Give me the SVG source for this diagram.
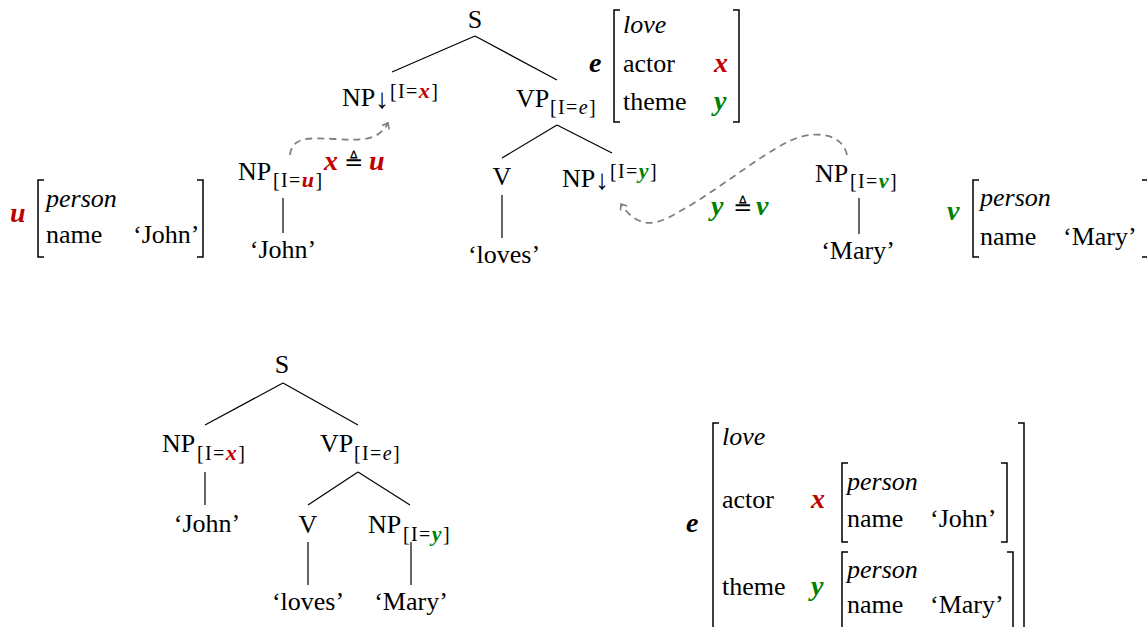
<svg xmlns="http://www.w3.org/2000/svg" width="1147" height="627" viewBox="0 0 1147 627">
<style>
text{font-family:"Liberation Serif","Times New Roman",serif;font-size:26px;fill:#000}
.it{font-style:italic}
.s{font-size:20px;letter-spacing:1.4px}
.m{font-style:italic;font-weight:bold;font-size:28px}
.s .m{font-size:22px}
.r{fill:#bf0000}
.g{fill:#008000}
.e{font-style:italic}
.c{text-anchor:middle}
.ar{font-size:28px}
.def{font-family:"DejaVu Sans",sans-serif;font-size:23px}
.edge{stroke:#000;stroke-width:1.2;fill:none}
.br{stroke:#000;stroke-width:1.5;fill:none}
.dash{stroke:#808080;stroke-width:1.8;fill:none;stroke-dasharray:7 5;marker-end:url(#ah)}
</style>
<defs>
<marker id="ah" viewBox="-6 -5 8 10" markerWidth="8" markerHeight="10" refX="0" refY="0" orient="auto" markerUnits="userSpaceOnUse">
<path d="M-5,-4 L0,0 L-5,4" stroke="#808080" stroke-width="1.6" fill="none"/>
</marker>
</defs>
<rect width="1147" height="627" fill="#fff"/>

<!-- Top tree -->
<g id="top-S"><text class="c" x="475" y="28">S</text></g>
<g id="top-NPx"><text x="342" y="106">NP<tspan class="ar" dy="2">↓</tspan></text><text class="s" x="390" y="98">[I=<tspan class="m r">x</tspan>]</text></g>
<g id="top-VP"><text x="516" y="107">VP</text><text class="s" x="550" y="114">[I=<tspan class="e">e</tspan>]</text></g>
<g id="top-V"><text class="c" x="502" y="185">V</text></g>
<g id="top-loves"><text class="c" x="504" y="263">‘loves’</text></g>
<g id="top-NPy"><text x="562" y="187">NP<tspan class="ar" dy="2">↓</tspan></text><text class="s" x="610" y="178">[I=<tspan class="m g">y</tspan>]</text></g>
<g id="NPu"><text x="238" y="180">NP</text><text class="s" x="273" y="187">[I=<tspan class="m r">u</tspan>]</text></g>
<g id="John1"><text class="c" x="283" y="258">‘John’</text></g>
<g id="NPv"><text x="815" y="182">NP</text><text class="s" x="850" y="188">[I=<tspan class="m g">v</tspan>]</text></g>
<g id="Mary1"><text class="c" x="858" y="259">‘Mary’</text></g>

<!-- AVM e top -->
<g id="avm-e-top">
<text class="m" x="589" y="72">e</text>
<path class="br" d="M620,10 H614 V122 H620"/>
<path class="br" d="M733,10 H739 V122 H733"/>
<text class="it" x="623" y="33">love</text>
<text x="623" y="72">actor</text>
<text x="623" y="110">theme</text>
<text class="m r" x="714" y="72">x</text>
<text class="m g" x="714" y="110">y</text>
</g>

<!-- AVM u -->
<g id="avm-u">
<text class="m r" x="10" y="222">u</text>
<path class="br" d="M44,180 H38 V257 H44"/>
<path class="br" d="M197,180 H203 V257 H197"/>
<text class="it" x="46" y="207">person</text>
<text x="46" y="243">name</text>
<text x="133" y="243">‘John’</text>
</g>

<!-- AVM v -->
<g id="avm-v">
<text class="m g" x="947" y="220">v</text>
<path class="br" d="M979,180 H973 V257 H979"/>
<path class="br" d="M1142,180 H1148 V257 H1142"/>
<text class="it" x="980" y="206">person</text>
<text x="980" y="245">name</text>
<text x="1063" y="245">‘Mary’</text>
</g>

<!-- equations -->
<g id="eq-xu"><text class="m r" x="324" y="170">x</text><text class="def" x="344" y="170">≜</text><text class="m r" x="369" y="170">u</text></g>
<g id="eq-yv"><text class="m g" x="711" y="215">y</text><text class="def" x="733" y="215">≜</text><text class="m g" x="756" y="215">v</text></g>

<!-- Bottom tree -->
<g id="bot-S"><text class="c" x="282" y="373">S</text></g>
<g id="bot-NPx"><text x="162" y="452">NP</text><text class="s" x="197" y="460">[I=<tspan class="m r">x</tspan>]</text></g>
<g id="bot-John"><text class="c" x="207" y="532">‘John’</text></g>
<g id="bot-VP"><text x="320" y="452">VP</text><text class="s" x="354" y="460">[I=<tspan class="e">e</tspan>]</text></g>
<g id="bot-V"><text class="c" x="308" y="533">V</text></g>
<g id="bot-NPy"><text x="368" y="533">NP</text><text class="s" x="403" y="541">[I=<tspan class="m g">y</tspan>]</text></g>
<g id="bot-loves"><text class="c" x="308" y="610">‘loves’</text></g>
<g id="bot-Mary"><text class="c" x="411" y="610">‘Mary’</text></g>

<!-- AVM bottom -->
<g id="avm-e-bottom">
<text class="m" x="686" y="532">e</text>
<path class="br" d="M719,423 H713 V640"/>
<path class="br" d="M1018,423 H1024 V640"/>
<text class="it" x="722" y="445">love</text>
<text x="722" y="508">actor</text>
<text class="m r" x="811" y="508">x</text>
<path class="br" d="M848,463 H842 V542 H848"/>
<path class="br" d="M1001,463 H1007 V542 H1001"/>
<text class="it" x="847" y="490">person</text>
<text x="847" y="527">name</text>
<text x="930" y="527">‘John’</text>
<text x="722" y="595">theme</text>
<text class="m g" x="811" y="595">y</text>
<path class="br" d="M848,552 H842 V640"/>
<path class="br" d="M1007,552 H1013 V640"/>
<text class="it" x="847" y="578">person</text>
<text x="847" y="613">name</text>
<text x="930" y="613">‘Mary’</text>
</g>

<g id="connectors">
<path class="edge" d="M475,36 L392,72 M475,36 L557,80"/>
<path class="edge" d="M557,125 L502,158 M557,125 L612,153"/>
<path class="edge" d="M502,195 V238"/>
<path class="edge" d="M283,198 V233"/>
<path class="edge" d="M859,198 V234"/>
<path class="edge" d="M283,383 L205,425 M283,383 L358,425"/>
<path class="edge" d="M205,472 V505"/>
<path class="edge" d="M358,472 L308,505 M358,472 L410,505"/>
<path class="edge" d="M308,542 V585 M411,542 V585"/>
<path class="dash" d="M290,155 C292,136 310,138 335,139 C360,140 378,142 388,123"/>
<path class="dash" d="M847,155 C843,136 822,131 800,137 C772,145 722,188 682,210 C662,222 641,234 621,204"/>
</g>
</svg>
